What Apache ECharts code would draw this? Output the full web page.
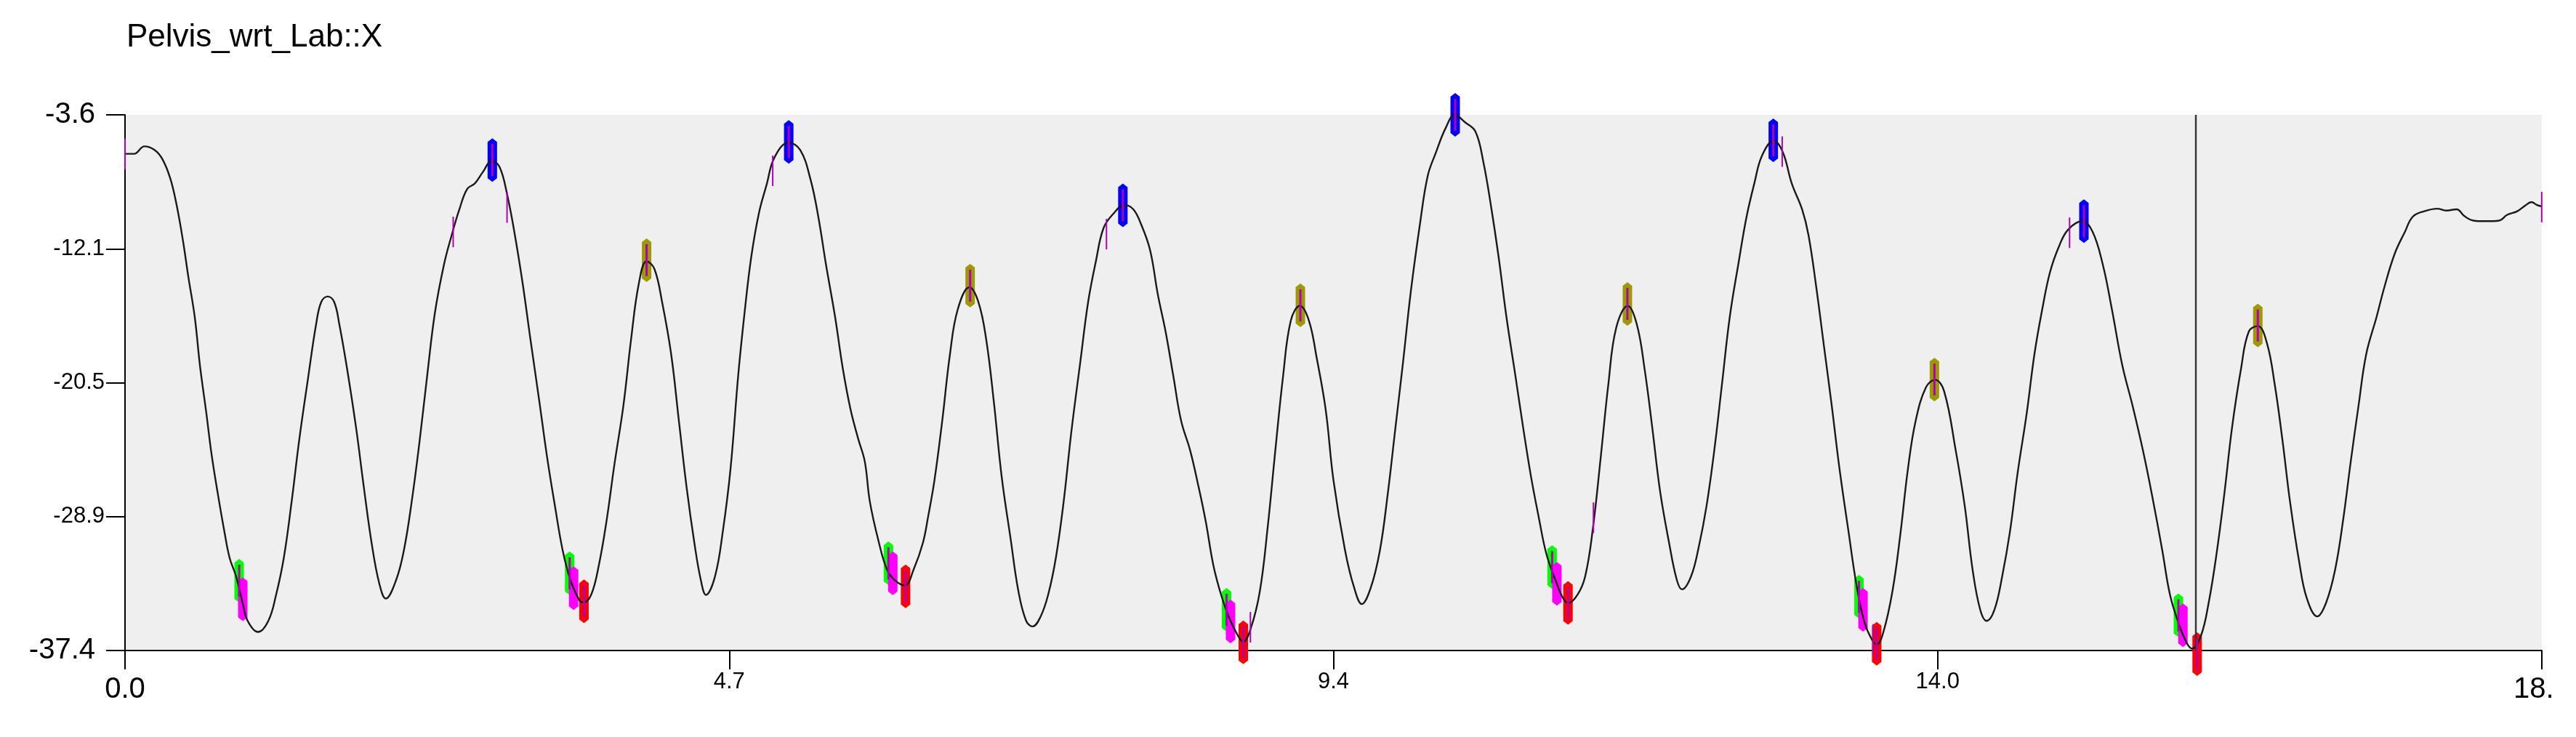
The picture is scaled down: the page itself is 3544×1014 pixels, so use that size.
<!DOCTYPE html>
<html>
<head>
<meta charset="utf-8">
<title>Pelvis_wrt_Lab::X</title>
<script src="https://cdn.jsdelivr.net/npm/echarts@6.0.0/dist/echarts.min.js"></script>
<style>
    html, body { margin: 0; padding: 0; background: #fff; overflow: hidden; }
    #chart { width: 3544px; height: 1014px; }
</style>
</head>
<body>
<div id="chart"></div>
<script>
    // time (s) and Pelvis_wrt_Lab X angle
    const pelvisX = [
        [0.00,-6.06],[0.07,-6.06],[0.15,-5.59],[0.23,-5.82],[0.29,-6.40],[0.35,-7.60],[0.40,-9.30],[0.45,-11.60],
        [0.49,-13.80],[0.54,-16.35],[0.58,-19.39],[0.63,-22.43],[0.67,-25.00],[0.72,-27.57],[0.77,-29.91],[0.81,-31.55],
        [0.86,-32.72],[0.91,-34.36],[0.95,-35.53],[1.03,-36.23],[1.11,-35.53],[1.17,-33.89],[1.23,-31.55],[1.29,-28.04],
        [1.35,-24.07],[1.42,-20.09],[1.48,-16.82],[1.52,-15.41],[1.57,-15.06],[1.62,-15.41],[1.66,-16.82],[1.72,-19.62],
        [1.79,-23.36],[1.85,-27.11],[1.91,-30.61],[1.97,-33.19],[2.02,-34.12],[2.10,-32.95],[2.16,-31.08],[2.22,-28.04],
        [2.28,-24.30],[2.34,-20.09],[2.40,-16.11],[2.47,-13.07],[2.53,-11.20],[2.59,-9.56],[2.65,-8.28],[2.71,-7.93],
        [2.77,-7.23],[2.84,-6.52],[2.90,-6.87],[2.96,-8.63],[3.02,-11.20],[3.08,-14.24],[3.14,-17.75],[3.21,-21.73],
        [3.27,-25.24],[3.33,-28.28],[3.39,-31.08],[3.45,-32.95],[3.52,-34.24],[3.55,-34.36],[3.61,-33.89],[3.67,-32.02],
        [3.73,-29.21],[3.79,-25.70],[3.86,-21.96],[3.92,-17.75],[3.98,-14.24],[4.04,-12.84],[4.10,-13.31],[4.16,-15.41],
        [4.23,-18.69],[4.29,-22.90],[4.35,-27.11],[4.41,-30.61],[4.46,-32.95],[4.50,-33.89],[4.57,-32.72],[4.63,-29.91],
        [4.69,-25.94],[4.75,-20.00],[4.80,-16.00],[4.85,-12.60],[4.91,-9.80],[4.97,-8.00],[5.03,-6.30],[5.14,-5.35],
        [5.23,-5.82],[5.31,-7.69],[5.37,-10.03],[5.43,-13.07],[5.50,-16.35],[5.56,-19.62],[5.62,-22.20],[5.68,-24.07],
        [5.73,-25.47],[5.77,-28.04],[5.84,-30.61],[5.90,-32.25],[5.96,-32.95],[6.04,-33.30],[6.11,-32.25],[6.18,-30.61],
        [6.22,-28.98],[6.27,-26.64],[6.33,-22.90],[6.39,-18.69],[6.45,-15.88],[6.54,-14.48],[6.61,-15.41],[6.67,-17.75],
        [6.73,-21.73],[6.79,-26.41],[6.86,-30.38],[6.92,-33.66],[6.98,-35.53],[7.03,-35.88],[7.09,-35.29],[7.15,-33.89],
        [7.21,-31.55],[7.27,-28.04],[7.33,-23.60],[7.40,-19.15],[7.46,-15.41],[7.52,-12.84],[7.58,-10.73],[7.66,-9.80],
        [7.74,-9.28],[7.81,-9.56],[7.87,-10.50],[7.94,-12.14],[8.00,-14.94],[8.06,-17.28],[8.12,-20.09],[8.18,-22.90],
        [8.25,-24.77],[8.31,-26.87],[8.37,-29.21],[8.43,-32.02],[8.49,-33.89],[8.55,-35.29],[8.62,-36.46],[8.66,-36.86],
        [8.72,-36.00],[8.79,-33.66],[8.85,-29.68],[8.91,-24.77],[8.97,-20.09],[9.03,-16.58],[9.10,-15.65],[9.17,-16.58],
        [9.23,-18.92],[9.30,-22.20],[9.36,-26.64],[9.45,-31.08],[9.52,-33.42],[9.58,-34.47],[9.65,-33.42],[9.72,-31.08],
        [9.78,-27.57],[9.84,-23.36],[9.90,-19.15],[9.96,-14.71],[10.03,-10.50],[10.09,-7.46],[10.15,-6.06],[10.23,-4.42],
        [10.30,-3.60],[10.38,-4.07],[10.46,-4.65],[10.52,-6.52],[10.58,-9.33],[10.64,-12.60],[10.70,-16.35],[10.77,-20.09],
        [10.83,-23.36],[10.89,-26.41],[10.95,-28.98],[11.01,-31.32],[11.08,-32.95],[11.14,-34.12],[11.18,-34.40],[11.25,-33.89],
        [11.31,-32.72],[11.37,-29.68],[11.43,-25.24],[11.49,-20.56],[11.55,-17.05],[11.64,-15.65],[11.71,-16.82],[11.77,-19.62],
        [11.83,-23.36],[11.89,-27.34],[11.96,-30.61],[12.02,-32.95],[12.06,-33.54],[12.13,-32.72],[12.19,-30.85],[12.25,-28.28],
        [12.31,-24.77],[12.37,-20.56],[12.43,-16.35],[12.50,-12.84],[12.56,-10.03],[12.62,-7.93],[12.68,-6.17],[12.77,-5.24],
        [12.84,-5.94],[12.91,-7.93],[12.99,-9.56],[13.04,-11.20],[13.10,-14.48],[13.16,-18.22],[13.22,-21.96],[13.28,-25.94],
        [13.35,-29.91],[13.41,-33.19],[13.47,-35.53],[13.53,-36.70],[13.57,-37.00],[13.62,-36.23],[13.69,-33.66],[13.75,-30.15],
        [13.81,-25.94],[13.87,-22.90],[13.95,-20.79],[14.02,-20.32],[14.09,-21.03],[14.18,-24.77],[14.25,-28.28],[14.31,-32.25],
        [14.37,-34.83],[14.42,-35.53],[14.48,-34.83],[14.54,-32.72],[14.60,-29.91],[14.66,-26.17],[14.73,-22.43],[14.79,-18.69],
        [14.85,-15.88],[14.91,-13.54],[14.98,-11.90],[15.05,-10.85],[15.16,-10.31],[15.24,-10.97],[15.32,-13.07],[15.39,-15.88],
        [15.47,-19.39],[15.55,-21.96],[15.63,-24.77],[15.70,-27.57],[15.78,-31.08],[15.84,-33.89],[15.91,-35.76],[15.97,-36.93],
        [16.01,-37.28],[16.08,-36.46],[16.14,-34.36],[16.20,-31.32],[16.26,-27.57],[16.32,-23.36],[16.39,-19.62],[16.45,-17.28],
        [16.52,-16.93],[16.59,-17.98],[16.65,-20.56],[16.71,-24.07],[16.77,-28.04],[16.84,-31.78],[16.90,-34.12],[16.98,-35.25],
        [17.05,-34.36],[17.12,-32.25],[17.18,-29.21],[17.24,-25.47],[17.30,-21.96],[17.36,-18.69],[17.44,-16.35],[17.50,-14.48],
        [17.58,-12.37],[17.66,-10.97],[17.72,-10.03],[17.81,-9.68],[17.91,-9.52],[17.98,-9.64],[18.06,-9.56],[18.12,-9.99],
        [18.19,-10.27],[18.28,-10.31],[18.39,-10.27],[18.45,-9.92],[18.53,-9.68],[18.59,-9.33],[18.64,-9.10],[18.68,-9.28],
        [18.72,-9.38]
    ];

    // gait events [time, value]
    const blueEvents = [[2.845,-6.45],[5.141,-5.31],[7.729,-9.31],[10.303,-3.60],[12.767,-5.21],[15.173,-10.31]];
    const oliveEvents = [[4.040,-12.77],[6.546,-14.38],[9.104,-15.62],[11.637,-15.53],[14.015,-20.30],[16.520,-16.89]];
    const greenEvents = [[0.884,-33.00],[3.444,-32.53],[5.913,-31.90],[8.532,-34.83],[11.054,-32.14],[13.431,-34.01],[15.905,-35.18]];
    const magentaEvents = [[0.912,-34.17],[3.475,-33.47],[5.947,-32.53],[8.563,-35.57],[11.091,-33.19],[13.462,-34.83],[15.940,-35.81]];
    const redEvents = [[3.555,-34.29],[6.046,-33.35],[8.662,-36.88],[11.177,-34.40],[13.568,-36.98],[16.050,-37.63]];
    const tickEvents = [[0,-6.06],[2.542,-10.99],[2.959,-9.45],[5.017,-7.13],[7.602,-11.13],[8.717,-35.93],
        [11.374,-29.02],[12.836,-5.92],[13.540,-36.70],[15.062,-11.04],[18.719,-9.42]];

    const cursorTime = 16.04;

    const xTickLabels = ['0.0', '4.7', '9.4', '14.0', '18.7'];
    const yTickLabels = ['-37.4', '-28.9', '-20.5', '-12.1', '-3.6'];

    const font = 'Arial, "Liberation Sans", sans-serif';
    const capsulePath = 'path://M6.5,0 L13,5 L13,55 L6.5,60 L0,55 L0,5 Z';

    function capsule(name, color, data) {
        return {
            name: name,
            type: 'scatter',
            data: data,
            z: 3,
            clip: false,
            silent: true,
            symbol: capsulePath,
            symbolSize: [13, 60],
            itemStyle: {color: color, opacity: 1}
        };
    }

    let chart = echarts.init(document.getElementById('chart'));

    let option = {
        animation: false,
        title: {
            text: 'Pelvis_wrt_Lab::X',
            left: 174,
            top: 30,
            padding: 0,
            textStyle: {fontSize: 44, fontWeight: 'normal', color: '#000', fontFamily: font}
        },
        grid: {
            left: 172,
            right: 47,
            top: 158,
            bottom: 119,
            show: true,
            backgroundColor: '#efefef',
            borderWidth: 0
        },
        xAxis: {
            type: 'value',
            min: 0,
            max: 18.72,
            interval: 4.68,
            axisLine: {show: true, onZero: false, lineStyle: {color: '#000', width: 2}},
            axisTick: {show: true, inside: false, length: 26, lineStyle: {color: '#000', width: 2}},
            splitLine: {show: false},
            axisLabel: {
                margin: 28,
                showMinLabel: true,
                showMaxLabel: true,
                formatter: function (value, index) {
                    let big = index === 0 || index === xTickLabels.length - 1;
                    return (big ? '{big|' : '{small|') + xTickLabels[index] + '}';
                },
                rich: {
                    big: {fontSize: 40, fontFamily: font, color: '#000', padding: [6, 0, 0, 0]},
                    small: {fontSize: 31, fontFamily: font, color: '#000'}
                }
            }
        },
        yAxis: {
            type: 'value',
            min: -37.4,
            max: -3.6,
            interval: 8.45,
            axisLine: {show: true, onZero: false, lineStyle: {color: '#000', width: 2}},
            axisTick: {show: true, inside: false, length: 26, lineStyle: {color: '#000', width: 2}},
            splitLine: {show: false},
            axisLabel: {
                margin: 28,
                showMinLabel: true,
                showMaxLabel: true,
                formatter: function (value, index) {
                    let big = index === 0 || index === yTickLabels.length - 1;
                    return (big ? '{big|' : '{small|') + yTickLabels[index] + '}';
                },
                rich: {
                    big: {fontSize: 40, fontFamily: font, color: '#000', padding: [0, 13, 0, 0]},
                    small: {fontSize: 31, fontFamily: font, color: '#000'}
                }
            }
        },
        graphic: [{
            // the source window cuts the last x label
            type: 'rect',
            left: 3515,
            top: 915,
            z: 100,
            shape: {width: 29, height: 90},
            style: {fill: '#fff'}
        }],
        series: [
            capsule('blue', '#0000ff', blueEvents),
            capsule('olive', '#9c9a00', oliveEvents),
            capsule('green', '#00ff00', greenEvents),
            capsule('magenta', '#ff00ff', magentaEvents),
            capsule('red', '#ff0000', redEvents),
            {
                name: 'Pelvis_wrt_Lab::X',
                type: 'line',
                data: pelvisX,
                z: 4,
                smooth: 0.4,
                showSymbol: false,
                silent: true,
                lineStyle: {color: '#1a1a1a', width: 2.4},
                markLine: {
                    silent: true,
                    symbol: ['none', 'none'],
                    label: {show: false},
                    lineStyle: {color: '#333', width: 2.4, type: 'solid'},
                    data: [{xAxis: cursorTime}]
                }
            },
            {
                name: 'event lines',
                type: 'scatter',
                data: blueEvents.concat(oliveEvents, greenEvents, redEvents),
                z: 5,
                clip: false,
                silent: true,
                symbol: 'rect',
                symbolSize: [3, 44],
                itemStyle: {color: '#b000b0', opacity: 1}
            },
            {
                name: 'ticks',
                type: 'scatter',
                data: tickEvents,
                z: 5,
                clip: false,
                silent: true,
                symbol: 'rect',
                symbolSize: [2, 42],
                itemStyle: {color: '#b000b0', opacity: 1}
            }
        ]
    };

    chart.setOption(option, true);
    window.onresize = () => {
        chart.resize();
    };
</script>
</body>
</html>
